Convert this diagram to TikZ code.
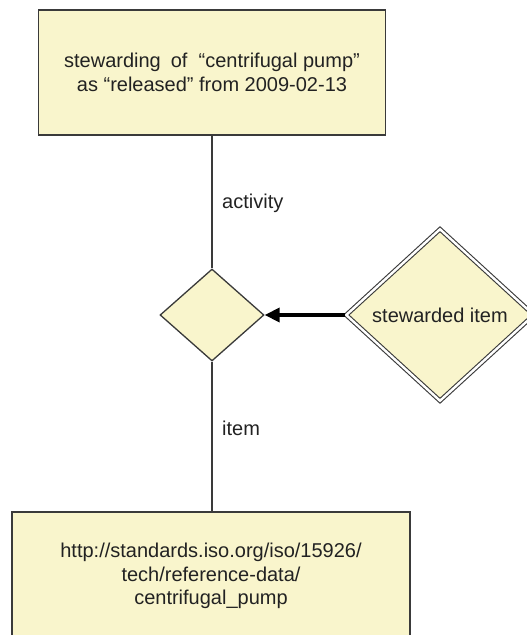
\documentclass[tikz,border=0pt]{standalone}
\usepackage{fontspec}
\setmainfont{Liberation Sans}
\usetikzlibrary{shapes.geometric,arrows.meta}
\definecolor{boxfill}{RGB}{249,245,204}
\definecolor{edge}{RGB}{58,58,58}
\definecolor{ink}{RGB}{34,34,34}
\tikzset{
  every node/.style={text=ink, font=\fontsize{20}{23.5}\selectfont},
  thingbox/.style={draw=edge, line width=1.4pt, fill=boxfill, align=center, inner sep=0pt},
  relation/.style={diamond, draw=edge, line width=1.3pt, fill=boxfill, inner sep=0pt},
  relclass/.style={diamond, draw=edge, line width=1.1pt, double=white, double distance=2.4pt, fill=boxfill, inner sep=0pt},
  link/.style={draw=edge, line width=1.4pt},
  rolelabel/.style={anchor=west, inner sep=0pt},
  classarrow/.style={draw=black, line width=3.6pt, -{Triangle[length=15pt,width=14pt]}}
}
\begin{document}
\begin{tikzpicture}[x=1pt, y=-1pt]
\useasboundingbox (0,0) rectangle (527,635);
\clip (0,0) rectangle (527,635);
% activity and item
\node[thingbox, minimum width=347pt, minimum height=125pt] (act) at (212,72.5)
  {stewarding\enspace of \ “centrifugal pump”\\as “released” from 2009-02-13};
\node[thingbox, minimum width=398pt, minimum height=128pt] (itm) at (211,576)
  {http://standards.iso.org/iso/15926/\\tech/reference-data/\\centrifugal\_pump};
% relationship and its class
\node[relation, minimum width=104pt, minimum height=92pt] (rel) at (212,315) {};
\node[relclass, minimum width=188pt, minimum height=172pt] (cls) at (440,315) {stewarded item};
% roles
\draw[link] (act.south -| rel.north) -- (rel.north);
\draw[link] (rel.south) -- (rel.south |- itm.north);
\node[rolelabel] (lact) at (222,203) {activity};
\node[rolelabel] (litm) at (222,428) {item};
% classification
\draw[classarrow] (cls.west) -- (rel.east);
\end{tikzpicture}
\end{document}
